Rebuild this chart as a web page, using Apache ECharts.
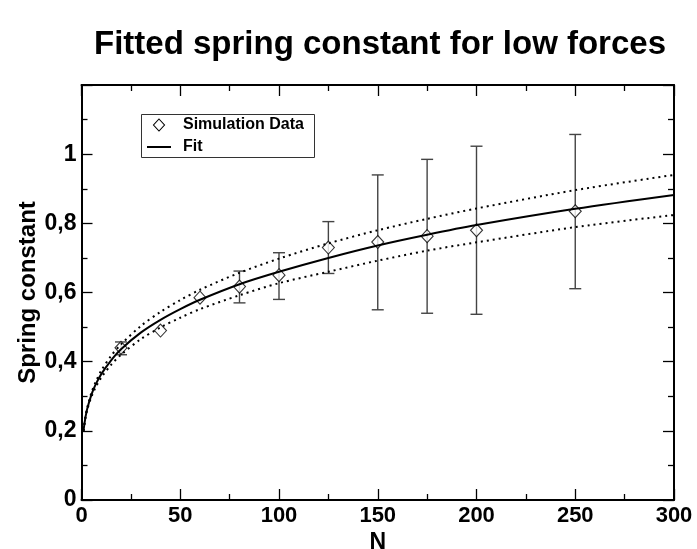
<!DOCTYPE html>
<html lang="en">
<head>
  <meta charset="UTF-8">
  <title>Fitted spring constant for low forces</title>
  <script src="https://cdn.jsdelivr.net/npm/echarts@6/dist/echarts.min.js"></script>
  <style>
    html, body { margin: 0; padding: 0; background: #fff; }
  </style>
</head>
<body>
  <div id="chart" style="width:697px;height:549px;"></div>
</body>
</html>
<script type="text/javascript">
  // simulation data
  let simN = [20, 40, 60, 80, 100, 125, 150, 175, 200, 250];
  let simK = [0.44, 0.49, 0.585, 0.617, 0.65, 0.73, 0.746, 0.763, 0.78, 0.835];
  let simLow = [0.42, 0.49, 0.585, 0.57, 0.58, 0.655, 0.55, 0.54, 0.537, 0.611];
  let simHigh = [0.457, 0.49, 0.585, 0.662, 0.715, 0.805, 0.94, 0.985, 1.023, 1.057];

  // fit curve and its dotted bounds, read at these N
  let fitN = [1, 2, 3, 5, 7, 10, 15, 20, 30, 40, 50, 60, 80, 100, 125, 150, 175, 200, 250, 300];
  let fitK = [0.2, 0.239, 0.266, 0.304, 0.332, 0.364, 0.404, 0.436, 0.484, 0.521, 0.552, 0.579, 0.624, 0.66, 0.70, 0.736, 0.767, 0.795, 0.842, 0.882];
  let fitUpper = [0.2, 0.241, 0.269, 0.31, 0.339, 0.374, 0.417, 0.45, 0.503, 0.544, 0.578, 0.608, 0.657, 0.698, 0.742, 0.78, 0.813, 0.843, 0.896, 0.94];
  let fitLower = [0.2, 0.238, 0.263, 0.298, 0.324, 0.354, 0.391, 0.42, 0.465, 0.499, 0.527, 0.552, 0.592, 0.627, 0.66, 0.692, 0.721, 0.745, 0.789, 0.824];

  let legendNames = ['Simulation Data', 'Fit'];

  let zip = (xs, ys) => xs.map((x, i) => [x, ys[i]]);
  let font = 'Liberation Sans, Arial, sans-serif';

  let chart = echarts.init(document.getElementById('chart'));

  let tickStyle = { color: '#000', width: 1.3 };
  let axisBase = {
    type: 'value',
    axisLine: { show: true, onZero: false, lineStyle: { color: '#000', width: 2 } },
    axisTick: { show: true, inside: true, length: 11, lineStyle: tickStyle },
    minorTick: { show: true, splitNumber: 2, length: 6, lineStyle: tickStyle },
    splitLine: { show: false },
    minorSplitLine: { show: false }
  };
  let labelFmt = v => {
    let r = Math.round(v * 10) / 10;
    if (Math.abs(r - 1.2) < 1e-6) return '';
    return String(r).replace('.', ',');
  };
  let legendText = { fontFamily: font, fontWeight: 'bold', fontSize: 16, fill: '#000', textVerticalAlign: 'middle' };

  let option = {
    animation: false,
    title: {
      text: 'Fitted spring constant for low forces',
      left: 375,
      top: 23,
      textAlign: 'center',
      textStyle: { fontFamily: font, fontWeight: 'bold', fontSize: 33, color: '#000' }
    },
    grid: { left: 81.5, right: 23, top: 85, bottom: 49, containLabel: false, outerBoundsMode: 'none' },
    // hand-drawn legend box to match the original styling
    graphic: [
      { type: 'rect', shape: { x: 141.5, y: 114.5, width: 173, height: 43 },
        style: { fill: '#fff', stroke: '#333', lineWidth: 1 }, z: 10 },
      { type: 'polygon', shape: { points: [[159, 119], [164.5, 125], [159, 131], [153.5, 125]] },
        style: { fill: '#fff', stroke: '#000', lineWidth: 1.1 }, z: 11 },
      { type: 'line', shape: { x1: 147, y1: 147, x2: 171, y2: 147 },
        style: { stroke: '#000', lineWidth: 2 }, z: 11 },
      { type: 'text', x: 183, y: 125, style: Object.assign({ text: legendNames[0] }, legendText), z: 11 },
      { type: 'text', x: 183, y: 147, style: Object.assign({ text: legendNames[1] }, legendText), z: 11 }
    ],
    xAxis: [
      Object.assign({}, axisBase, {
        position: 'bottom', min: 0, max: 300, interval: 50,
        name: 'N', nameLocation: 'middle', nameGap: 31, nameMoveOverlap: false,
        nameTextStyle: { fontFamily: font, fontWeight: 'bold', fontSize: 23, color: '#000' },
        axisLabel: { fontFamily: font, fontWeight: 'bold', fontSize: 22, color: '#000', margin: 5 }
      }),
      Object.assign({}, axisBase, {
        position: 'top', min: 0, max: 300, interval: 50,
        axisLabel: { show: false }
      })
    ],
    yAxis: [
      Object.assign({}, axisBase, {
        position: 'left', min: 0, max: 1.2, interval: 0.2,
        name: 'Spring constant', nameLocation: 'middle', nameGap: 41, nameRotate: 90, nameMoveOverlap: false,
        nameTextStyle: { fontFamily: font, fontWeight: 'bold', fontSize: 24, color: '#000' },
        axisLabel: { fontFamily: font, fontWeight: 'bold', fontSize: 23, color: '#000', margin: 5, formatter: labelFmt }
      }),
      Object.assign({}, axisBase, {
        position: 'right', min: 0, max: 1.2, interval: 0.2,
        axisLabel: { show: false }
      })
    ],
    series: [
      {
        name: 'errors',
        type: 'custom',
        xAxisIndex: 0,
        yAxisIndex: 0,
        z: 2,
        data: simN.map((n, i) => [n, simLow[i], simHigh[i]]),
        renderItem: function (params, api) {
          let lo = api.coord([api.value(0), api.value(1)]);
          let hi = api.coord([api.value(0), api.value(2)]);
          if (Math.abs(lo[1] - hi[1]) < 3) return null;
          let w = 6;
          let st = { stroke: '#444', lineWidth: 1.4 };
          return {
            type: 'group',
            children: [
              { type: 'line', shape: { x1: lo[0], y1: lo[1], x2: hi[0], y2: hi[1] }, style: st },
              { type: 'line', shape: { x1: lo[0] - w, y1: lo[1], x2: lo[0] + w, y2: lo[1] }, style: st },
              { type: 'line', shape: { x1: hi[0] - w, y1: hi[1], x2: hi[0] + w, y2: hi[1] }, style: st }
            ]
          };
        }
      },
      {
        name: legendNames[0],
        type: 'scatter',
        z: 3,
        symbol: 'diamond',
        symbolSize: [12, 13],
        itemStyle: { color: '#fff', borderColor: '#000', borderWidth: 1.1 },
        data: zip(simN, simK)
      },
      {
        name: 'Fit upper',
        type: 'line',
        z: 4,
        smooth: 0.3,
        symbol: 'none',
        lineStyle: { color: '#000', width: 2, type: [2, 4] },
        data: zip(fitN, fitUpper)
      },
      {
        name: 'Fit lower',
        type: 'line',
        z: 4,
        smooth: 0.3,
        symbol: 'none',
        lineStyle: { color: '#000', width: 2, type: [2, 4] },
        data: zip(fitN, fitLower)
      },
      {
        name: legendNames[1],
        type: 'line',
        z: 5,
        smooth: 0.3,
        symbol: 'none',
        lineStyle: { color: '#000', width: 2 },
        data: zip(fitN, fitK)
      }
    ]
  };
  chart.setOption(option);
</script>
